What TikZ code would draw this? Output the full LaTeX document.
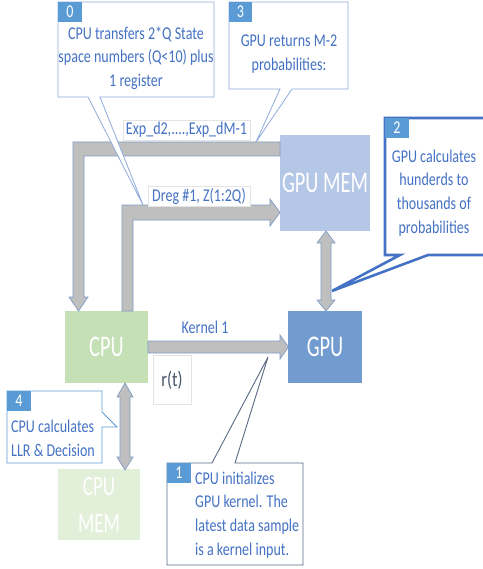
\documentclass[tikz,border=0pt]{standalone}
\usepackage{fontspec}
\setmainfont{Carlito}[FakeStretch=0.78]
\newfontfamily\bigf{Carlito}[FakeStretch=0.68]
\definecolor{txtblue}{HTML}{4472C4}
\definecolor{tabblue}{HTML}{5B9BD5}
\definecolor{lightedge}{HTML}{8FAADC}
\definecolor{darkedge}{HTML}{5A6B85}
\definecolor{arrowfill}{HTML}{BFBFBF}
\definecolor{arrowedge}{HTML}{7F9CC4}
\definecolor{gpumem}{HTML}{B4C7E7}
\definecolor{gpu}{HTML}{729CD0}
\definecolor{cpu}{HTML}{C5E0B4}
\definecolor{cpumem}{HTML}{E2F0D9}
\definecolor{faint}{HTML}{E4E4E4}
\definecolor{rtcol}{HTML}{44546A}
\begin{document}
\begin{tikzpicture}[x=1pt,y=-1pt,
  block/.style={draw=none,inner sep=0pt,text=white,font=\bigf\fontsize{30}{31}\selectfont,align=center},
  blockarrow/.style={fill=arrowfill,draw=arrowedge,line width=0.7pt,line join=miter},
  tab/.style={fill=tabblue,text=white,inner sep=0pt,font=\fontsize{18}{20}\selectfont},
  body/.style={text=txtblue,inner sep=0pt,font=\fontsize{18}{23.8}\selectfont},
  lbl/.style={fill=white,draw=faint,line width=0.5pt,text=txtblue,font=\fontsize{18}{20}\selectfont},
  calloutlight/.style={fill=white,draw=lightedge,line width=0.8pt},
  callout4/.style={fill=white,draw=tabblue,line width=0.8pt},
  callout1/.style={fill=white,draw=darkedge,line width=0.9pt},
  callout2/.style={fill=white,draw=txtblue,line width=2.6pt}]
\useasboundingbox (0,0) rectangle (482,569);
\fill[white] (0,0) rectangle (482,569);

% main boxes
\fill[gpumem] (280,135) rectangle (370,231);
\node[block] (gpumem) at (325,183) {GPU MEM};
\fill[gpu] (288,311) rectangle (362,383);
\node[block] (gpu) at (325,347) {GPU};
\fill[cpu] (65,311) rectangle (148,383);
\node[block] (cpu) at (106.5,347) {CPU};
\fill[cpumem] (58,469) rectangle (140,540);
\node[block,font=\bigf\fontsize{28}{37}\selectfont] (cpumem) at (99,505) {CPU\\MEM};

% block arrows
\draw[blockarrow] (280,142) -- (73,142) -- (73,297) -- (69,297) -- (78.5,311)
  -- (88,297) -- (84,297) -- (84,156) -- (280,156) -- cycle;
\draw[blockarrow] (122,311) -- (122,205) -- (270,205) -- (270,199) -- (280,212.5)
  -- (270,226) -- (270,220) -- (133,220) -- (133,311) -- cycle;
\draw[blockarrow] (148,341) -- (280,341) -- (280,335) -- (288.5,347) -- (280,359)
  -- (280,353) -- (148,353) -- cycle;
\draw[blockarrow] (326,231) -- (335,243) -- (331,243) -- (331,300) -- (335,300)
  -- (326,311) -- (317,300) -- (321,300) -- (321,243) -- (317,243) -- cycle;
\draw[blockarrow] (125,383) -- (133,397) -- (130,397) -- (130,457) -- (133,457)
  -- (125,470) -- (117,457) -- (120,457) -- (120,397) -- (117,397) -- cycle;

% labels
\node[lbl,minimum width=127pt,minimum height=20pt,inner sep=0pt] (explbl) at (186.5,130) {Exp\_d2,....,Exp\_dM-1};
\node[lbl,minimum width=102pt,minimum height=20pt,inner sep=0pt] (dreglbl) at (199,196) {Dreg \#1, Z(1:2Q)};
\node[text=txtblue,font=\fontsize{18}{20}\selectfont,inner sep=0pt] (kernlbl) at (205,327) {Kernel 1};
\node[fill=white,draw=faint,line width=0.5pt,minimum width=38pt,minimum height=49pt,inner sep=0pt,
  text=rtcol,font=\fontsize{21}{22}\selectfont] (rt) at (172,380) {r(t)};

% callout 0
\draw[calloutlight] (58,2) -- (214,2) -- (214,97) -- (100,97) -- (143,205) -- (88,97) -- (58,97) -- cycle;
\node[tab,minimum width=24pt,minimum height=20pt] (t0) at (70,12) {0};
\node[body,align=center] (c0) at (136,58) {CPU transfers 2*Q State\\space numbers (Q<10) plus\\1 register};

% callout 3
\draw[calloutlight] (229,2) -- (348,2) -- (348,89) -- (292,89) -- (256,142) -- (280,89) -- (229,89) -- cycle;
\node[tab,minimum width=23pt,minimum height=20pt] (t3) at (240.5,12) {3};
\node[body,align=center] (c3) at (289,54) {GPU returns M-2\\probabilities:};

% callout 2
\draw[callout2] (495,118) -- (385,118) -- (385,255) -- (400,255) -- (332,291) -- (428,255) -- (495,255);
\node[tab,minimum width=24pt,minimum height=20pt] (t2) at (397,128) {2};
\node[body,align=center] (c2) at (434,193) {GPU calculates\\hunderds to\\thousands of\\probabilities};

% callout 4
\draw[callout4] (7,391) -- (102,391) -- (102,412) -- (117,427) -- (102,427) -- (102,463) -- (7,463) -- cycle;
\node[tab,minimum width=24pt,minimum height=20pt] (t4) at (19,401) {4};
\node[body,align=left,anchor=west] (c4) at (11,438) {CPU calculates\\LLR \& Decision};

% callout 1
\draw[callout1] (167,463) -- (212,463) -- (268,357) -- (235,463) -- (303,463) -- (303,565) -- (167,565) -- cycle;
\node[tab,minimum width=24pt,minimum height=20pt] (t1) at (179,473) {1};
\node[body,align=left,anchor=west] (c1) at (195,515) {CPU initializes\\GPU kernel. The\\latest data sample\\is a kernel input.};
\end{tikzpicture}
\end{document}
